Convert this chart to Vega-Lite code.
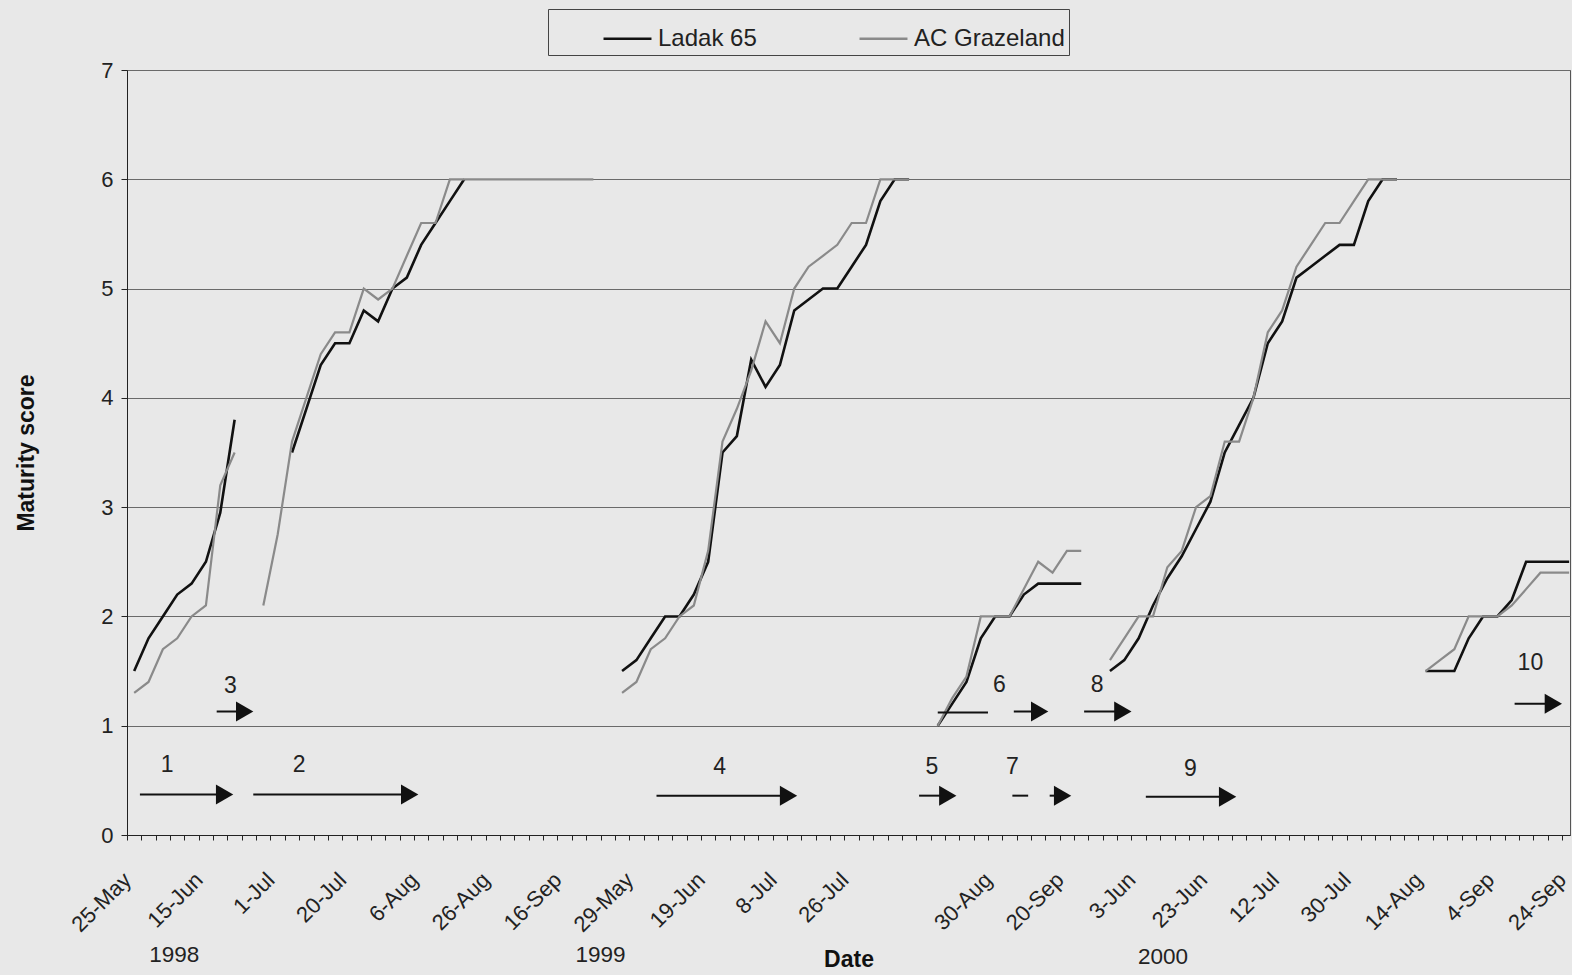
{
  "$schema": "https://vega.github.io/schema/vega-lite/v6.json",
  "width": 1443,
  "height": 765,
  "autosize": "none",
  "padding": {"left": 127, "top": 70, "right": 2, "bottom": 140},
  "background": "#e8e8e8",
  "config": {"font": "Liberation Sans", "view": {"stroke": "#555", "strokeWidth": 1}},
  "datasets": {
    "series": [
      {"s":"Ladak 65","g":"A","k":0,"v":1.5},{"s":"Ladak 65","g":"A","k":1,"v":1.8},{"s":"Ladak 65","g":"A","k":2,"v":2.0},{"s":"Ladak 65","g":"A","k":3,"v":2.2},{"s":"Ladak 65","g":"A","k":4,"v":2.3},{"s":"Ladak 65","g":"A","k":5,"v":2.5},{"s":"Ladak 65","g":"A","k":6,"v":2.95},{"s":"Ladak 65","g":"A","k":7,"v":3.8},
      {"s":"Ladak 65","g":"B","k":11,"v":3.5},{"s":"Ladak 65","g":"B","k":12,"v":3.9},{"s":"Ladak 65","g":"B","k":13,"v":4.3},{"s":"Ladak 65","g":"B","k":14,"v":4.5},{"s":"Ladak 65","g":"B","k":15,"v":4.5},{"s":"Ladak 65","g":"B","k":16,"v":4.8},{"s":"Ladak 65","g":"B","k":17,"v":4.7},{"s":"Ladak 65","g":"B","k":18,"v":5.0},{"s":"Ladak 65","g":"B","k":19,"v":5.1},{"s":"Ladak 65","g":"B","k":20,"v":5.4},{"s":"Ladak 65","g":"B","k":21,"v":5.6},{"s":"Ladak 65","g":"B","k":22,"v":5.8},{"s":"Ladak 65","g":"B","k":23,"v":6.0},
      {"s":"Ladak 65","g":"C","k":34,"v":1.5},{"s":"Ladak 65","g":"C","k":35,"v":1.6},{"s":"Ladak 65","g":"C","k":36,"v":1.8},{"s":"Ladak 65","g":"C","k":37,"v":2.0},{"s":"Ladak 65","g":"C","k":38,"v":2.0},{"s":"Ladak 65","g":"C","k":39,"v":2.2},{"s":"Ladak 65","g":"C","k":40,"v":2.5},{"s":"Ladak 65","g":"C","k":41,"v":3.5},{"s":"Ladak 65","g":"C","k":42,"v":3.65},{"s":"Ladak 65","g":"C","k":43,"v":4.35},{"s":"Ladak 65","g":"C","k":44,"v":4.1},{"s":"Ladak 65","g":"C","k":45,"v":4.3},{"s":"Ladak 65","g":"C","k":46,"v":4.8},{"s":"Ladak 65","g":"C","k":47,"v":4.9},{"s":"Ladak 65","g":"C","k":48,"v":5.0},{"s":"Ladak 65","g":"C","k":49,"v":5.0},{"s":"Ladak 65","g":"C","k":50,"v":5.2},{"s":"Ladak 65","g":"C","k":51,"v":5.4},{"s":"Ladak 65","g":"C","k":52,"v":5.8},{"s":"Ladak 65","g":"C","k":53,"v":6.0},{"s":"Ladak 65","g":"C","k":54,"v":6.0},
      {"s":"Ladak 65","g":"D","k":56,"v":1.0},{"s":"Ladak 65","g":"D","k":57,"v":1.2},{"s":"Ladak 65","g":"D","k":58,"v":1.4},{"s":"Ladak 65","g":"D","k":59,"v":1.8},{"s":"Ladak 65","g":"D","k":60,"v":2.0},{"s":"Ladak 65","g":"D","k":61,"v":2.0},{"s":"Ladak 65","g":"D","k":62,"v":2.2},{"s":"Ladak 65","g":"D","k":63,"v":2.3},{"s":"Ladak 65","g":"D","k":64,"v":2.3},{"s":"Ladak 65","g":"D","k":65,"v":2.3},{"s":"Ladak 65","g":"D","k":66,"v":2.3},
      {"s":"Ladak 65","g":"E","k":68,"v":1.5},{"s":"Ladak 65","g":"E","k":69,"v":1.6},{"s":"Ladak 65","g":"E","k":70,"v":1.8},{"s":"Ladak 65","g":"E","k":71,"v":2.1},{"s":"Ladak 65","g":"E","k":72,"v":2.35},{"s":"Ladak 65","g":"E","k":73,"v":2.55},{"s":"Ladak 65","g":"E","k":74,"v":2.8},{"s":"Ladak 65","g":"E","k":75,"v":3.05},{"s":"Ladak 65","g":"E","k":76,"v":3.5},{"s":"Ladak 65","g":"E","k":77,"v":3.75},{"s":"Ladak 65","g":"E","k":78,"v":4.0},{"s":"Ladak 65","g":"E","k":79,"v":4.5},{"s":"Ladak 65","g":"E","k":80,"v":4.7},{"s":"Ladak 65","g":"E","k":81,"v":5.1},{"s":"Ladak 65","g":"E","k":82,"v":5.2},{"s":"Ladak 65","g":"E","k":83,"v":5.3},{"s":"Ladak 65","g":"E","k":84,"v":5.4},{"s":"Ladak 65","g":"E","k":85,"v":5.4},{"s":"Ladak 65","g":"E","k":86,"v":5.8},{"s":"Ladak 65","g":"E","k":87,"v":6.0},{"s":"Ladak 65","g":"E","k":88,"v":6.0},
      {"s":"Ladak 65","g":"F","k":90,"v":1.5},{"s":"Ladak 65","g":"F","k":91,"v":1.5},{"s":"Ladak 65","g":"F","k":92,"v":1.5},{"s":"Ladak 65","g":"F","k":93,"v":1.8},{"s":"Ladak 65","g":"F","k":94,"v":2.0},{"s":"Ladak 65","g":"F","k":95,"v":2.0},{"s":"Ladak 65","g":"F","k":96,"v":2.15},{"s":"Ladak 65","g":"F","k":97,"v":2.5},{"s":"Ladak 65","g":"F","k":98,"v":2.5},{"s":"Ladak 65","g":"F","k":99,"v":2.5},{"s":"Ladak 65","g":"F","k":100,"v":2.5},
      {"s":"AC Grazeland","g":"A","k":0,"v":1.3},{"s":"AC Grazeland","g":"A","k":1,"v":1.4},{"s":"AC Grazeland","g":"A","k":2,"v":1.7},{"s":"AC Grazeland","g":"A","k":3,"v":1.8},{"s":"AC Grazeland","g":"A","k":4,"v":2.0},{"s":"AC Grazeland","g":"A","k":5,"v":2.1},{"s":"AC Grazeland","g":"A","k":6,"v":3.2},{"s":"AC Grazeland","g":"A","k":7,"v":3.5},
      {"s":"AC Grazeland","g":"B","k":9,"v":2.1},{"s":"AC Grazeland","g":"B","k":10,"v":2.75},{"s":"AC Grazeland","g":"B","k":11,"v":3.6},{"s":"AC Grazeland","g":"B","k":12,"v":4.0},{"s":"AC Grazeland","g":"B","k":13,"v":4.4},{"s":"AC Grazeland","g":"B","k":14,"v":4.6},{"s":"AC Grazeland","g":"B","k":15,"v":4.6},{"s":"AC Grazeland","g":"B","k":16,"v":5.0},{"s":"AC Grazeland","g":"B","k":17,"v":4.9},{"s":"AC Grazeland","g":"B","k":18,"v":5.0},{"s":"AC Grazeland","g":"B","k":19,"v":5.3},{"s":"AC Grazeland","g":"B","k":20,"v":5.6},{"s":"AC Grazeland","g":"B","k":21,"v":5.6},{"s":"AC Grazeland","g":"B","k":22,"v":6.0},{"s":"AC Grazeland","g":"B","k":23,"v":6.0},{"s":"AC Grazeland","g":"B","k":24,"v":6.0},{"s":"AC Grazeland","g":"B","k":25,"v":6.0},{"s":"AC Grazeland","g":"B","k":26,"v":6.0},{"s":"AC Grazeland","g":"B","k":27,"v":6.0},{"s":"AC Grazeland","g":"B","k":28,"v":6.0},{"s":"AC Grazeland","g":"B","k":29,"v":6.0},{"s":"AC Grazeland","g":"B","k":30,"v":6.0},{"s":"AC Grazeland","g":"B","k":31,"v":6.0},{"s":"AC Grazeland","g":"B","k":32,"v":6.0},
      {"s":"AC Grazeland","g":"C","k":34,"v":1.3},{"s":"AC Grazeland","g":"C","k":35,"v":1.4},{"s":"AC Grazeland","g":"C","k":36,"v":1.7},{"s":"AC Grazeland","g":"C","k":37,"v":1.8},{"s":"AC Grazeland","g":"C","k":38,"v":2.0},{"s":"AC Grazeland","g":"C","k":39,"v":2.1},{"s":"AC Grazeland","g":"C","k":40,"v":2.6},{"s":"AC Grazeland","g":"C","k":41,"v":3.6},{"s":"AC Grazeland","g":"C","k":42,"v":3.9},{"s":"AC Grazeland","g":"C","k":43,"v":4.25},{"s":"AC Grazeland","g":"C","k":44,"v":4.7},{"s":"AC Grazeland","g":"C","k":45,"v":4.5},{"s":"AC Grazeland","g":"C","k":46,"v":5.0},{"s":"AC Grazeland","g":"C","k":47,"v":5.2},{"s":"AC Grazeland","g":"C","k":48,"v":5.3},{"s":"AC Grazeland","g":"C","k":49,"v":5.4},{"s":"AC Grazeland","g":"C","k":50,"v":5.6},{"s":"AC Grazeland","g":"C","k":51,"v":5.6},{"s":"AC Grazeland","g":"C","k":52,"v":6.0},{"s":"AC Grazeland","g":"C","k":53,"v":6.0},{"s":"AC Grazeland","g":"C","k":54,"v":6.0},
      {"s":"AC Grazeland","g":"D","k":56,"v":1.0},{"s":"AC Grazeland","g":"D","k":57,"v":1.25},{"s":"AC Grazeland","g":"D","k":58,"v":1.45},{"s":"AC Grazeland","g":"D","k":59,"v":2.0},{"s":"AC Grazeland","g":"D","k":60,"v":2.0},{"s":"AC Grazeland","g":"D","k":61,"v":2.0},{"s":"AC Grazeland","g":"D","k":62,"v":2.25},{"s":"AC Grazeland","g":"D","k":63,"v":2.5},{"s":"AC Grazeland","g":"D","k":64,"v":2.4},{"s":"AC Grazeland","g":"D","k":65,"v":2.6},{"s":"AC Grazeland","g":"D","k":66,"v":2.6},
      {"s":"AC Grazeland","g":"E","k":68,"v":1.6},{"s":"AC Grazeland","g":"E","k":69,"v":1.8},{"s":"AC Grazeland","g":"E","k":70,"v":2.0},{"s":"AC Grazeland","g":"E","k":71,"v":2.0},{"s":"AC Grazeland","g":"E","k":72,"v":2.45},{"s":"AC Grazeland","g":"E","k":73,"v":2.6},{"s":"AC Grazeland","g":"E","k":74,"v":3.0},{"s":"AC Grazeland","g":"E","k":75,"v":3.1},{"s":"AC Grazeland","g":"E","k":76,"v":3.6},{"s":"AC Grazeland","g":"E","k":77,"v":3.6},{"s":"AC Grazeland","g":"E","k":78,"v":4.0},{"s":"AC Grazeland","g":"E","k":79,"v":4.6},{"s":"AC Grazeland","g":"E","k":80,"v":4.8},{"s":"AC Grazeland","g":"E","k":81,"v":5.2},{"s":"AC Grazeland","g":"E","k":82,"v":5.4},{"s":"AC Grazeland","g":"E","k":83,"v":5.6},{"s":"AC Grazeland","g":"E","k":84,"v":5.6},{"s":"AC Grazeland","g":"E","k":85,"v":5.8},{"s":"AC Grazeland","g":"E","k":86,"v":6.0},{"s":"AC Grazeland","g":"E","k":87,"v":6.0},{"s":"AC Grazeland","g":"E","k":88,"v":6.0},
      {"s":"AC Grazeland","g":"F","k":90,"v":1.5},{"s":"AC Grazeland","g":"F","k":91,"v":1.6},{"s":"AC Grazeland","g":"F","k":92,"v":1.7},{"s":"AC Grazeland","g":"F","k":93,"v":2.0},{"s":"AC Grazeland","g":"F","k":94,"v":2.0},{"s":"AC Grazeland","g":"F","k":95,"v":2.0},{"s":"AC Grazeland","g":"F","k":96,"v":2.1},{"s":"AC Grazeland","g":"F","k":97,"v":2.25},{"s":"AC Grazeland","g":"F","k":98,"v":2.4},{"s":"AC Grazeland","g":"F","k":99,"v":2.4},{"s":"AC Grazeland","g":"F","k":100,"v":2.4}
    ],
    "arrows": [
      {"id":"1","k":0.4,"k2":6.3,"v":0.37,"head":true},
      {"id":"2","k":8.3,"k2":19.2,"v":0.37,"head":true},
      {"id":"3","k":5.75,"k2":7.7,"v":1.13,"head":true},
      {"id":"4","k":36.4,"k2":45.6,"v":0.36,"head":true},
      {"id":"5","k":54.7,"k2":56.7,"v":0.36,"head":true},
      {"id":"6","k":61.3,"k2":63.1,"v":1.13,"head":true},
      {"id":"7","k":63.8,"k2":64.7,"v":0.36,"head":true},
      {"id":"7a","k":61.2,"k2":62.3,"v":0.36,"head":false},
      {"id":"8","k":66.2,"k2":68.9,"v":1.13,"head":true},
      {"id":"9","k":70.5,"k2":76.2,"v":0.35,"head":true},
      {"id":"10","k":96.2,"k2":98.9,"v":1.2,"head":true},
      {"id":"line","k":56.0,"k2":59.5,"v":1.12,"head":false}
    ],
    "labels": [
      {"t":"1","k":2.3,"v":0.64},{"t":"2","k":11.5,"v":0.64},{"t":"3","k":6.7,"v":1.36},
      {"t":"4","k":40.8,"v":0.62},{"t":"5","k":55.6,"v":0.62},{"t":"6","k":60.3,"v":1.37},
      {"t":"7","k":61.2,"v":0.62},{"t":"8","k":67.1,"v":1.37},{"t":"9","k":73.6,"v":0.6},
      {"t":"10","k":97.3,"v":1.57}
    ],
    "years": [
      {"t":"1998","k":2.8,"v":-1.1},{"t":"1999","k":32.5,"v":-1.1},{"t":"2000","k":71.7,"v":-1.12}
    ]
  },
  "encoding": {
    "x": {
      "field": "k", "type": "quantitative",
      "scale": {"domain": [-0.5, 100.06], "nice": false, "zero": false},
      "axis": {
        "title": "Date", "titleFontSize": 23, "titleFontWeight": "bold", "titleColor": "#111", "titlePadding": 13,
        "grid": false, "domainColor": "#222", "tickColor": "#222", "tickSize": 5,
        "values": [-0.5,0.5,1.5,2.5,3.5,4.5,5.5,6.5,7.5,8.5,9.5,10.5,11.5,12.5,13.5,14.5,15.5,16.5,17.5,18.5,19.5,20.5,21.5,22.5,23.5,24.5,25.5,26.5,27.5,28.5,29.5,30.5,31.5,32.5,33.5,34.5,35.5,36.5,37.5,38.5,39.5,40.5,41.5,42.5,43.5,44.5,45.5,46.5,47.5,48.5,49.5,50.5,51.5,52.5,53.5,54.5,55.5,56.5,57.5,58.5,59.5,60.5,61.5,62.5,63.5,64.5,65.5,66.5,67.5,68.5,69.5,70.5,71.5,72.5,73.5,74.5,75.5,76.5,77.5,78.5,79.5,80.5,81.5,82.5,83.5,84.5,85.5,86.5,87.5,88.5,89.5,90.5,91.5,92.5,93.5,94.5,95.5,96.5,97.5,98.5,99.5],
        "labelExpr": "(datum.value + 0.5) % 5 == 0 ? ['25-May','15-Jun','1-Jul','20-Jul','6-Aug','26-Aug','16-Sep','29-May','19-Jun','8-Jul','26-Jul','','30-Aug','20-Sep','3-Jun','23-Jun','12-Jul','30-Jul','14-Aug','4-Sep','24-Sep'][(datum.value + 0.5) / 5] : ''",
        "labelAngle": -45, "labelAlign": "right", "labelBaseline": "middle", "labelPadding": 36,
        "labelFontSize": 22, "labelColor": "#222", "labelOverlap": false, "labelFlush": false, "labelBound": false
      }
    },
    "y": {
      "field": "v", "type": "quantitative",
      "scale": {"domain": [0, 7], "nice": false},
      "axis": {
        "title": "Maturity score", "titleFontSize": 23, "titleFontWeight": "bold", "titleColor": "#111", "titlePadding": 62,
        "values": [0,1,2,3,4,5,6,7], "grid": true, "gridColor": "#6a6a6a", "gridWidth": 1,
        "domainColor": "#222", "tickColor": "#222", "tickSize": 6, "labelPadding": 8,
        "labelFontSize": 22, "labelColor": "#222"
      }
    }
  },
  "layer": [
    {
      "data": {"name": "series"},
      "transform": [{"filter": "datum.s == 'Ladak 65'"}],
      "mark": {"type": "line", "strokeWidth": 2.6},
      "encoding": {
        "color": {
          "field": "s", "type": "nominal",
          "scale": {"domain": ["Ladak 65", "AC Grazeland"], "range": ["#111111", "#8a8a8a"]},
          "legend": {
            "orient": "none", "legendX": 421, "legendY": -61, "direction": "horizontal", "title": null,
            "symbolType": "stroke", "symbolSize": 2300, "symbolStrokeWidth": 2.5,
            "labelFontSize": 24, "labelColor": "#222", "labelOffset": 5, "labelLimit": 400,
            "strokeColor": "#444", "fillColor": "#e8e8e8", "padding": 4, "columnPadding": 51, "symbolOffset": 50
          }
        },
        "detail": {"field": "g"}
      }
    },
    {
      "data": {"name": "series"},
      "transform": [{"filter": "datum.s == 'AC Grazeland'"}],
      "mark": {"type": "line", "strokeWidth": 2.2},
      "encoding": {
        "color": {"field": "s", "type": "nominal"},
        "detail": {"field": "g"}
      }
    },
    {
      "data": {"name": "arrows"},
      "mark": {"type": "rule", "color": "#111", "strokeWidth": 2},
      "encoding": {"x2": {"field": "k2"}}
    },
    {
      "data": {"name": "arrows"},
      "transform": [{"filter": "datum.head"}],
      "mark": {"type": "point", "shape": "triangle-right", "filled": true, "color": "#111", "size": 400, "opacity": 1},
      "encoding": {"x": {"field": "k2", "type": "quantitative"}}
    },
    {
      "data": {"name": "labels"},
      "mark": {"type": "text", "fontSize": 23, "color": "#222"},
      "encoding": {"text": {"field": "t"}}
    },
    {
      "data": {"name": "years"},
      "mark": {"type": "text", "fontSize": 22.5, "color": "#222"},
      "encoding": {"text": {"field": "t"}}
    }
  ]
}
